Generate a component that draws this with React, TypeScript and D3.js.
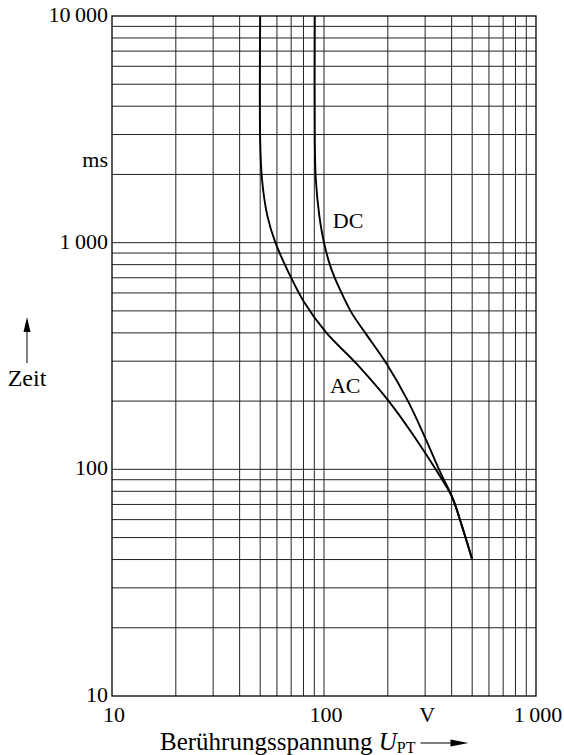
import React, { Component } from 'react';
import * as d3 from 'd3';

// AC curve (Berührungsspannung in V, Zeit in ms)
const ac_volts = [50, 50, 51, 54, 59, 68, 80.5, 102, 143, 202, 266, 334, 402, 448, 500];
const ac_ms = [10000, 2800, 1900, 1320, 1000, 740, 547, 403, 291, 200, 140, 101, 75.5, 56, 40];

// DC curve
const dc_volts = [90.5, 90.5, 91.5, 95, 100, 108, 119, 135, 158, 196, 249, 303, 352, 402, 448, 500];
const dc_ms = [10000, 2800, 1900, 1320, 1000, 770, 620, 490, 395, 295, 200, 135, 98, 75.5, 56, 40];

// tick labels
const x_tick_values = [10, 100, 300, 1000];
const x_tick_labels = ['10', '100', 'V', '1\u2009000'];
const y_tick_values = [10, 100, 1000, 2300, 10000];
const y_tick_labels = ['10', '100', '1\u2009000', 'ms', '10\u2009000'];

const FONT = '"Liberation Serif", "DejaVu Serif", serif';

class App extends Component {
  svgRef = React.createRef<SVGSVGElement>();

  componentDidMount() {
    this.draw();
  }

  draw() {
    var margin = { top: 16, right: 28, bottom: 59, left: 112 },
      W = 564, H = 755,
      w = W - margin.left - margin.right,
      h = H - margin.top - margin.bottom;

    var svg = d3.select(this.svgRef.current);
    svg.selectAll('*').remove();
    var g = svg.append('g').attr('transform', `translate(${margin.left}, ${margin.top})`);

    const x_scale = d3.scaleLog().domain([10, 1000]).range([0, w]);
    const y_scale = d3.scaleLog().domain([10, 10000]).range([h, 0]);

    // grid values 1..9 per decade
    var x_grid: number[] = [];
    for (let d = 10; d < 1000; d *= 10) for (let k = 2; k <= 9; k++) x_grid.push(k * d);
    x_grid.push(100);
    var y_grid: number[] = [];
    for (let d = 10; d < 10000; d *= 10) for (let k = 2; k <= 9; k++) y_grid.push(k * d);
    y_grid.push(100, 1000);

    g.selectAll('.vgrid').data(x_grid).join('line').attr('class', 'vgrid')
      .attr('x1', d => x_scale(d)).attr('x2', d => x_scale(d))
      .attr('y1', 0).attr('y2', h)
      .attr('stroke', '#222').attr('stroke-width', 1);

    g.selectAll('.hgrid').data(y_grid).join('line').attr('class', 'hgrid')
      .attr('x1', 0).attr('x2', w)
      .attr('y1', d => y_scale(d)).attr('y2', d => y_scale(d))
      .attr('stroke', '#222').attr('stroke-width', 1);

    // frame
    g.append('rect').attr('x', 0).attr('y', 0).attr('width', w).attr('height', h)
      .attr('fill', 'none').attr('stroke', '#000').attr('stroke-width', 1.3);

    // curves
    const line = d3.line<[number, number]>()
      .x(d => x_scale(d[0]))
      .y(d => y_scale(d[1]))
      .curve(d3.curveCatmullRom.alpha(0.5));

    const ac_data = ac_volts.map((v, i) => [v, ac_ms[i]] as [number, number]);
    const dc_data = dc_volts.map((v, i) => [v, dc_ms[i]] as [number, number]);

    g.selectAll('.curve').data([ac_data, dc_data]).join('path').attr('class', 'curve')
      .attr('d', d => line(d))
      .attr('fill', 'none').attr('stroke', '#000').attr('stroke-width', 1.9)
      .attr('stroke-linejoin', 'round');

    // curve labels
    g.append('text').attr('x', x_scale(130)).attr('y', y_scale(1160))
      .attr('font-family', FONT).attr('font-size', 22).attr('text-anchor', 'middle').text('DC');
    g.append('text').attr('x', x_scale(126)).attr('y', y_scale(235) + 8)
      .attr('font-family', FONT).attr('font-size', 22).attr('text-anchor', 'middle').text('AC');

    // x tick labels
    g.selectAll('.xlab').data(x_tick_values).join('text').attr('class', 'xlab')
      .attr('x', d => x_scale(d) + 2).attr('y', h + 26)
      .attr('text-anchor', 'middle').attr('font-family', FONT).attr('font-size', 22)
      .text((d, i) => x_tick_labels[i]);

    // y tick labels
    g.selectAll('.ylab').data(y_tick_values).join('text').attr('class', 'ylab')
      .attr('x', -4).attr('y', d => y_scale(d) + 6)
      .attr('text-anchor', 'end').attr('font-family', FONT).attr('font-size', 22)
      .text((d, i) => y_tick_labels[i]);

    // y axis title with arrow
    svg.append('text').attr('x', 27).attr('y', 386)
      .attr('text-anchor', 'middle').attr('font-family', FONT).attr('font-size', 24).text('Zeit');
    svg.append('line').attr('x1', 27).attr('x2', 27).attr('y1', 363).attr('y2', 328)
      .attr('stroke', '#000').attr('stroke-width', 1);
    svg.append('path').attr('d', 'M27,317 L23.5,332 L30.5,332 Z').attr('fill', '#000');

    // x axis title with arrow
    var title = svg.append('text').attr('x', 160).attr('y', 750)
      .attr('font-family', FONT).attr('font-size', 25);
    title.append('tspan').text('Berührungsspannung ');
    title.append('tspan').attr('font-style', 'italic').text('U');
    title.append('tspan').attr('font-size', 16).attr('dy', 3).text('PT');
    var node = title.node() as SVGTextElement;
    var end = 160 + (node ? node.getComputedTextLength() : 256) + 5;
    svg.append('line').attr('x1', end).attr('x2', end + 32).attr('y1', 743).attr('y2', 743)
      .attr('stroke', '#000').attr('stroke-width', 1);
    svg.append('path').attr('d', `M${end + 48},743 L${end + 30},739.5 L${end + 30},746.5 Z`).attr('fill', '#000');
  }

  render() {
    return (
      <svg ref={this.svgRef} width={564} height={755}
        style={{ position: 'absolute', left: 0, top: 0, background: '#fff' }}>
      </svg>
    );
  }
}

export default App;
